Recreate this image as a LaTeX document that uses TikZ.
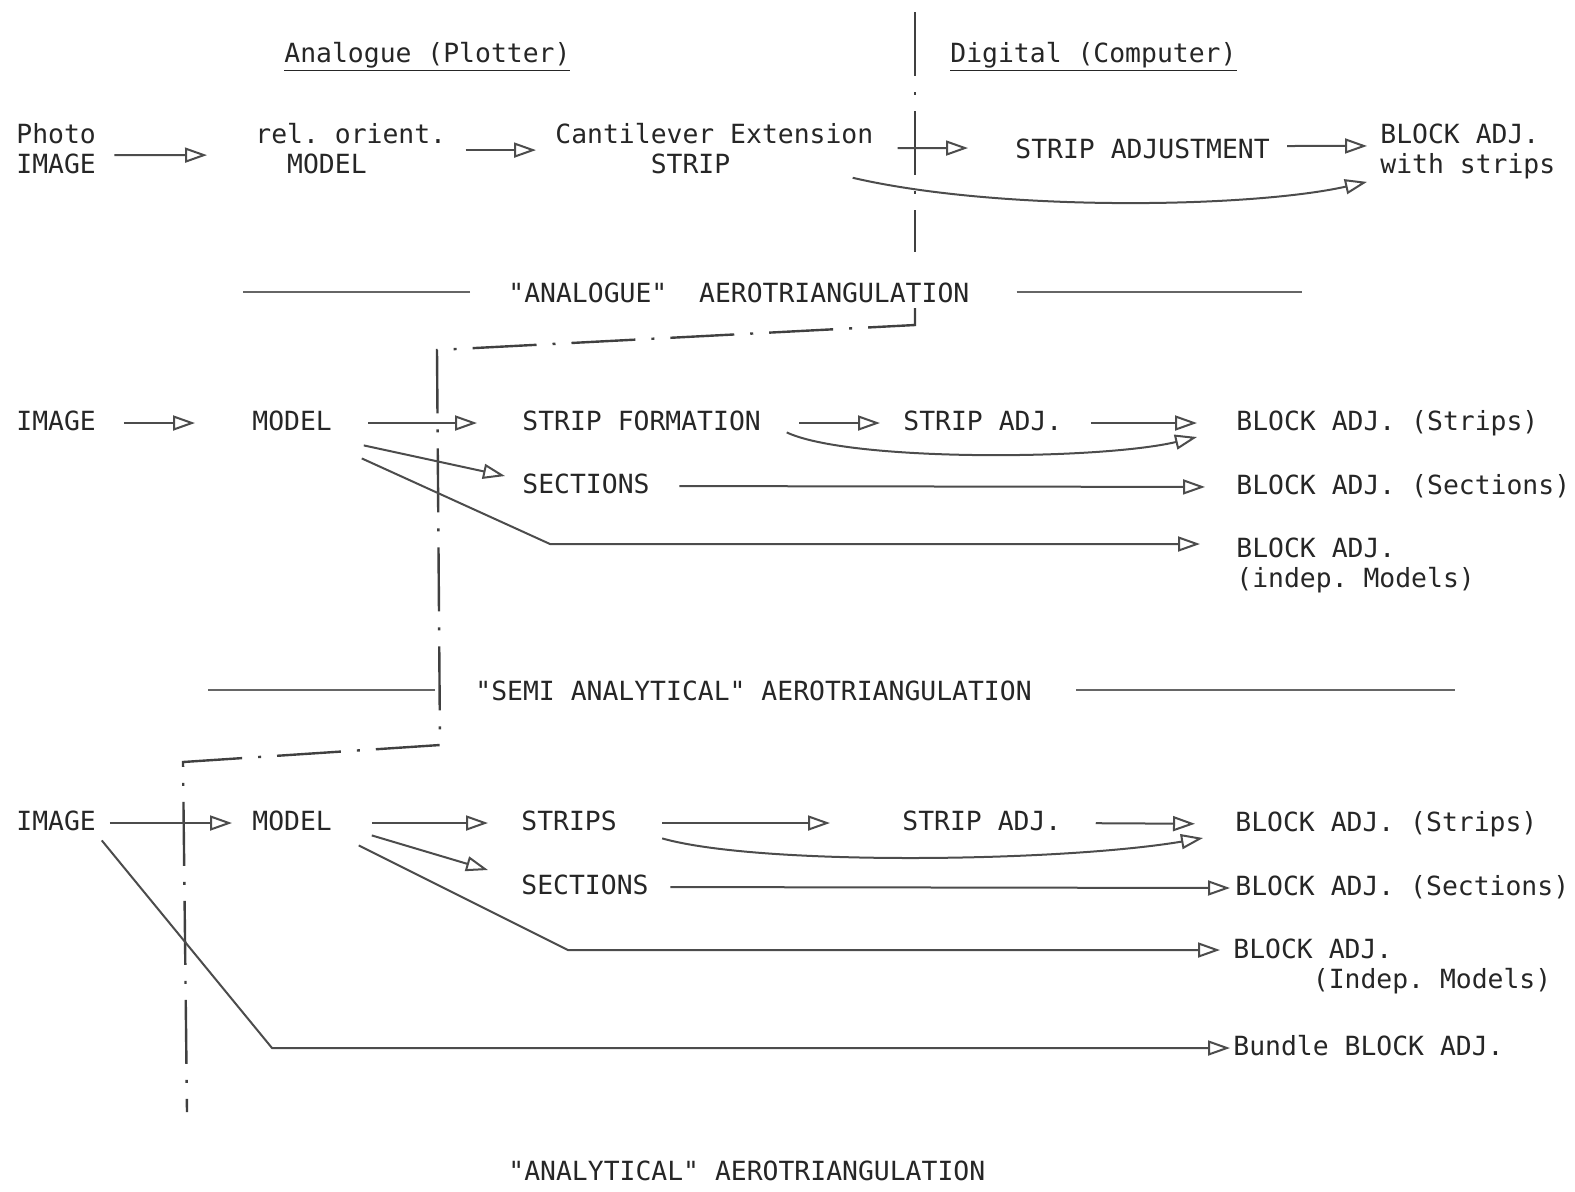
\documentclass[tikz,border=0pt]{standalone}
\usepackage{fontspec}
\setmainfont{DejaVu Sans Mono}[Ligatures=TeXOff]
\usepackage{tikz}
\usetikzlibrary{arrows.meta}
\usetikzlibrary{positioning}
\frenchspacing

\begin{document}
\begin{tikzpicture}
		[
		x=0.5pt, y=-0.5pt,
		font=\fontsize{13.2}{15}\selectfont,
		text=black!85
		]
		
		% Text styles: multi-line (placed at last baseline) and one-line labels
		\tikzstyle{lbl}=[anchor=base west,align=left,inner sep=0];
		\tikzstyle{one}=[anchor=base west,inner sep=0,text height=10pt,text depth=3pt];
		% Line styles
		\tikzstyle{arr}=[draw=black!70,line width=1pt,-{Triangle[open,length=11pt,width=7.5pt]}];
		\tikzstyle{rule}=[draw=black!60,line width=0.9pt];
		\tikzstyle{border}=[draw=black!75,line width=1.2pt,dash pattern=on 32pt off 8pt on 1.5pt off 8pt];
		
		\useasboundingbox (0,0) rectangle (1575,1191);
		
		% Headers
		\node[lbl] (hana) at (284,62) {\underline{Analogue (Plotter)}};
		\node[lbl] (hdig) at (950,62) {\underline{Digital (Computer)}};
		
		% Analogue row
		\node[lbl] (photo) at (16,173) {Photo\\IMAGE};
		\node[lbl] (relor) at (255,173) {rel. orient.\\\phantom{re}MODEL};
		\node[lbl] (cant) at (555,173) {Cantilever Extension\\\phantom{Cantil}STRIP};
		\node[one] (stadj) at (1015,158) {STRIP ADJUSTMENT};
		\node[lbl] (blkws) at (1380,173) {BLOCK ADJ.\\with strips};
		
		% Titles
		\node[one] (tana) at (508,302) {"ANALOGUE"~~AEROTRIANGULATION};
		\node[one] (tsemi) at (475,700) {"SEMI ANALYTICAL" AEROTRIANGULATION};
		\node[one] (tanl) at (508,1180) {"ANALYTICAL" AEROTRIANGULATION};
		
		% Semi analytical row
		\node[one] (img2) at (16,430) {IMAGE};
		\node[one] (mod2) at (252,430) {MODEL};
		\node[one] (sform) at (522,430) {STRIP FORMATION};
		\node[one] (sadj2) at (903,430) {STRIP ADJ.};
		\node[one] (bstr2) at (1236,430) {BLOCK ADJ. (Strips)};
		\node[one] (sect2) at (522,493) {SECTIONS};
		\node[one] (bsec2) at (1236,494) {BLOCK ADJ. (Sections)};
		\node[lbl] (bind2) at (1236,587) {BLOCK ADJ.\\(indep. Models)};
		
		% Analytical row
		\node[one] (img3) at (16,830) {IMAGE};
		\node[one] (mod3) at (252,830) {MODEL};
		\node[one] (strips) at (521,830) {STRIPS};
		\node[one] (sadj3) at (902,830) {STRIP ADJ.};
		\node[one] (bstr3) at (1235,831) {BLOCK ADJ. (Strips)};
		\node[one] (sect3) at (521,894) {SECTIONS};
		\node[one] (bsec3) at (1235,895) {BLOCK ADJ. (Sections)};
		\node[lbl] (bind3) at (1233,988) {BLOCK ADJ.\\\phantom{BLOCK}(Indep. Models)};
		\node[one] (bund) at (1233,1055) {Bundle BLOCK ADJ.};
		
		% Bend points
		\coordinate (k2) at (550,544);
		\coordinate (k3) at (568,950);
		\coordinate (k4) at (272,1048);
		
		% Analogue / digital border
		\draw[border] (915,12) -- (915,252);
		\draw[border] (915,308) -- (915,325) -- (437,350) -- (440,745) -- (183,762) -- (187,1112);
		
		% Title rules
		\draw[rule] ([xshift=-19pt,yshift=1.5pt]tana.west) -- ([xshift=-132.5pt,yshift=1.5pt]tana.west);
		\draw[rule] ([xshift=23.5pt,yshift=1.5pt]tana.east) -- ([xshift=166pt,yshift=1.5pt]tana.east);
		\draw[rule] ([xshift=-20pt,yshift=1.5pt]tsemi.west) -- ([xshift=-133.5pt,yshift=1.5pt]tsemi.west);
		\draw[rule] ([xshift=22pt,yshift=1.5pt]tsemi.east) -- ([xshift=211.5pt,yshift=1.5pt]tsemi.east);
		
		% Analogue arrows
		\draw[arr,shorten <=9pt,shorten >=24pt] ([yshift=-3.5pt]photo.east) -- ([yshift=-3.5pt]relor.west);
		\draw[arr,shorten <=9.5pt,shorten >=9.5pt] ([yshift=-1pt]relor.east) -- ([yshift=-1pt]cant.west);
		\draw[arr,shorten <=12pt,shorten >=23.5pt] (cant.east) -- ([yshift=1.5pt]stadj.west);
		\draw[arr,shorten <=8.5pt,shorten >=6.5pt] ([yshift=2.5pt]stadj.east) -- ([yshift=2.5pt]blkws.west);
		\draw[arr] ([xshift=-10.5pt,yshift=-2pt]cant.south east) .. controls (1000,212) and (1250,208) .. ([xshift=-6.5pt,yshift=-1.5pt]blkws.south west);
		
		% Semi analytical arrows
		\draw[arr,shorten <=13.75pt,shorten >=28.5pt] (img2.east) -- (mod2.west);
		\draw[arr,shorten <=18pt,shorten >=22.5pt] (mod2.east) -- (sform.west);
		\draw[arr,shorten <=19pt,shorten >=11.5pt] (sform.east) -- (sadj2.west);
		\draw[arr,shorten <=14pt,shorten >=19.5pt] (sadj2.east) -- (bstr2.west);
		\draw[arr] ([xshift=12.75pt,yshift=2pt]sform.south east) .. controls (850,462) and (1100,460) .. ([xshift=-19.5pt,yshift=-7pt]bstr2.west);
		\draw[arr] ([xshift=15.75pt,yshift=-4.5pt]mod2.south east) -- ([xshift=-8.5pt,yshift=5pt]sect2.west);
		\draw[arr,shorten <=14.7pt,shorten >=15.5pt] (sect2.east) -- (bsec2.west);
		\draw[arr,shorten >=18pt] ([xshift=14.75pt,yshift=-11pt]mod2.south east) -- (k2) -- (k2 -| bind2.west);
		
		% Analytical arrows
		\draw[arr,shorten <=6.75pt,shorten >=10pt] (img3.east) -- (mod3.west);
		\draw[arr,shorten <=19.75pt,shorten >=16.5pt] (mod3.east) -- (strips.west);
		\draw[arr,shorten <=22.5pt,shorten >=36pt] (strips.east) -- (sadj3.west);
		\draw[arr,shorten <=17pt,shorten >=20pt] (sadj3.east) -- (bstr3.west);
		\draw[arr] ([xshift=22.5pt,yshift=-1pt]strips.south east) .. controls (760,866) and (1060,862) .. ([xshift=-16pt,yshift=-7pt]bstr3.west);
		\draw[arr] ([xshift=19.75pt,yshift=0.5pt]mod3.south east) -- ([xshift=-16.5pt,yshift=8.5pt]sect3.west);
		\draw[arr,shorten <=10.7pt,shorten >=2.5pt] (sect3.east) -- (bsec3.west);
		\draw[arr,shorten >=6.5pt] ([xshift=13.25pt,yshift=-4.5pt]mod3.south east) -- (k3) -- (k3 -| bind3.west);
		\draw[arr,shorten >=1.5pt] ([xshift=2.75pt,yshift=-2pt]img3.south east) -- (k4) -- (k4 -| bund.west);
		\end{tikzpicture}
\end{document}
